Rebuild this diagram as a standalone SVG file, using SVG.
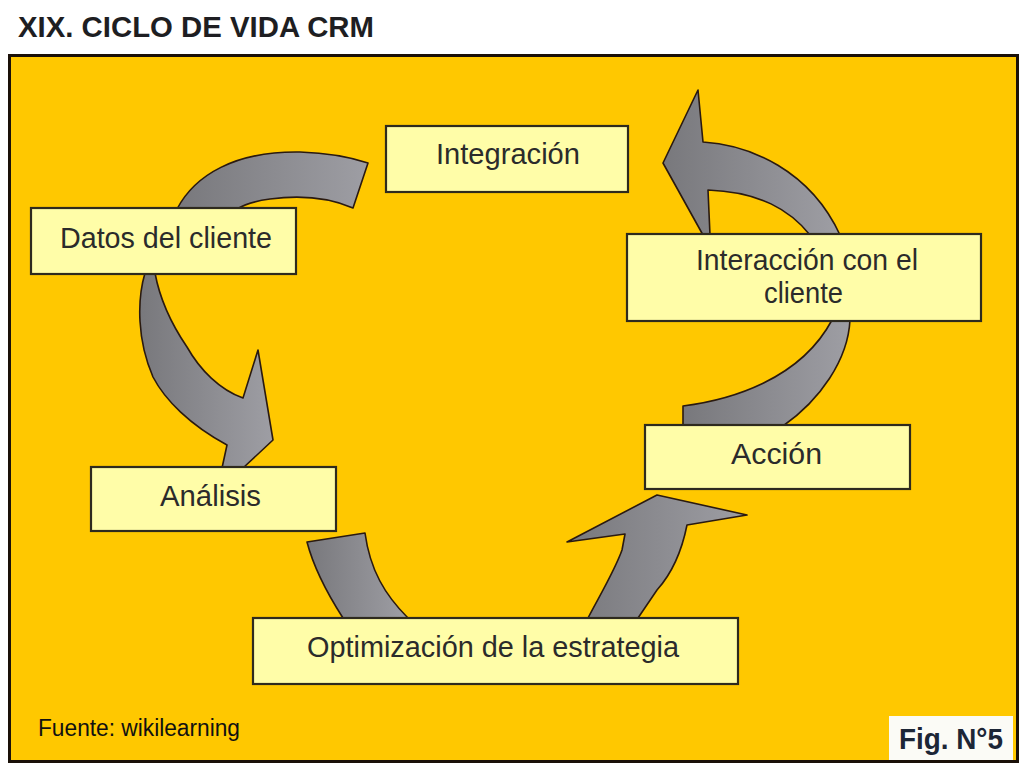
<svg xmlns="http://www.w3.org/2000/svg" width="1024" height="768" viewBox="0 0 1024 768">
  <defs>
    <linearGradient id="arrowGrad" x1="0" y1="0" x2="1" y2="0">
      <stop offset="0" stop-color="#78787c"/>
      <stop offset="1" stop-color="#9e9ea4"/>
    </linearGradient>
    <style>
      .arrow { fill: url(#arrowGrad); stroke: #2a1a10; stroke-width: 1.6; stroke-linejoin: round; }
      .box { fill: #FFFDA8; stroke: #2e2a1e; stroke-width: 2.2; }
      .lbl { font-family: "Liberation Sans", Arial, sans-serif; font-size: 30px; fill: #2b2b2b; }
    </style>
  </defs>
  <rect x="0" y="0" width="1024" height="768" fill="#ffffff"/>
  <text x="18" y="37" font-family="Liberation Sans, Arial, sans-serif" font-weight="bold" font-size="29" fill="#1e1e22" textLength="356" lengthAdjust="spacingAndGlyphs">XIX. CICLO DE VIDA CRM</text>
  <rect x="9.5" y="55.5" width="1008" height="706" fill="#FFC800" stroke="#1a1008" stroke-width="3"/>

  <g id="connectors">
    <path class="arrow" d="M177,209 C195,175 235,151 300,152 C330,153 350,157 368,163 L353,208 C330,198 300,195 270,199 C255,201 245,204 237,209 Z"/>
    <path class="arrow" d="M145,273 C137,300 137,340 153,377 C165,400 190,425 227,445 L222,468 L243,468 L273,440 L258,350 L243,398 C220,390 200,370 187,347 C172,325 160,300 155,273 Z"/>
    <path class="arrow" d="M307,542 L365,533 C370,570 385,595 408,618 L343,618 C325,590 313,565 307,542 Z"/>
    <path class="arrow" d="M588,618 C600,595 615,570 622,550 L625,534 L567,542 L657,495 L747,515 L687,525 C683,545 675,570 657,590 L638,618 Z"/>
    <path class="arrow" d="M683,426 L683,406 C730,400 800,380 832,320 L850,320 C848,360 820,400 783,426 Z"/>
    <path class="arrow" d="M698,90 L703,142 C750,145 810,170 840,235 L810,235 C790,210 760,192 708,190 L710,235 L703,235 L663,163 Z"/>
  </g>

  <g id="node-integracion">
    <rect class="box" x="386" y="126" width="242" height="66"/>
    <text class="lbl" x="436" y="164" textLength="144" lengthAdjust="spacingAndGlyphs">Integración</text>
  </g>
  <g id="node-datos">
    <rect class="box" x="31" y="208" width="265" height="66"/>
    <text class="lbl" x="60" y="248" textLength="212" lengthAdjust="spacingAndGlyphs">Datos del cliente</text>
  </g>
  <g id="node-interaccion">
    <rect class="box" x="627" y="234" width="354" height="87"/>
    <text class="lbl" x="696" y="270" textLength="222" lengthAdjust="spacingAndGlyphs">Interacción con el</text>
    <text class="lbl" x="764" y="303" textLength="79" lengthAdjust="spacingAndGlyphs">cliente</text>
  </g>
  <g id="node-accion">
    <rect class="box" x="645" y="425" width="265" height="64"/>
    <text class="lbl" x="731" y="464" textLength="91" lengthAdjust="spacingAndGlyphs">Acción</text>
  </g>
  <g id="node-analisis">
    <rect class="box" x="91" y="467" width="245" height="64"/>
    <text class="lbl" x="160" y="506" textLength="101" lengthAdjust="spacingAndGlyphs">Análisis</text>
  </g>
  <g id="node-optimizacion">
    <rect class="box" x="253" y="618" width="485" height="66"/>
    <text class="lbl" x="307" y="657" textLength="372" lengthAdjust="spacingAndGlyphs">Optimización de la estrategia</text>
  </g>

  <text x="38" y="736" font-family="Liberation Sans, Arial, sans-serif" font-size="23" fill="#111" textLength="202" lengthAdjust="spacingAndGlyphs">Fuente: wikilearning</text>
  <g id="fig-label">
    <rect x="889" y="716" width="124" height="44" fill="#fbfbf6"/>
    <text x="899" y="749" font-family="Liberation Sans, Arial, sans-serif" font-weight="bold" font-size="30" fill="#1c2636" textLength="104" lengthAdjust="spacingAndGlyphs">Fig. N°5</text>
  </g>
</svg>
